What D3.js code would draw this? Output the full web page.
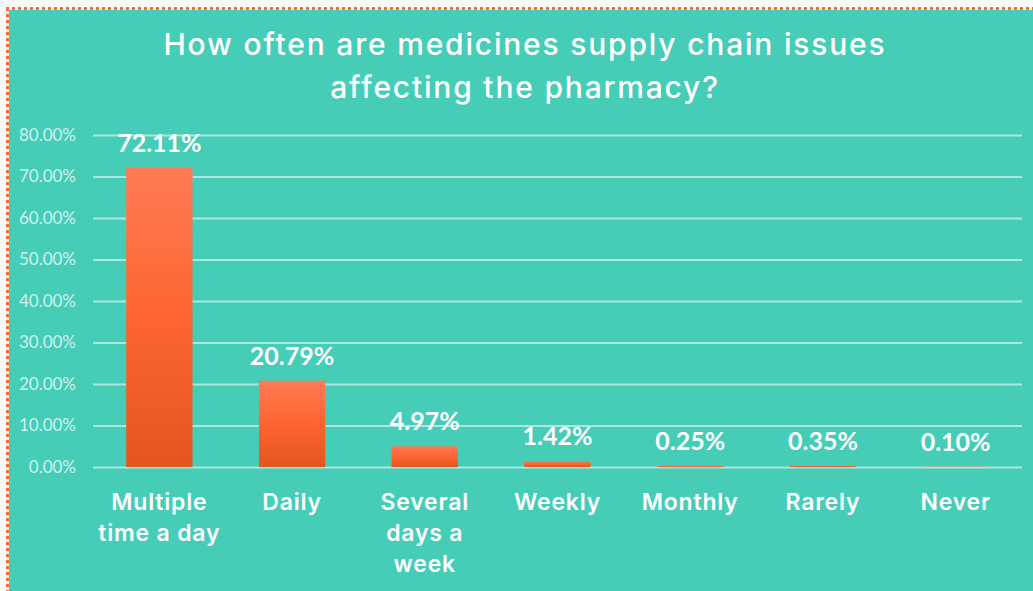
<!DOCTYPE html>
<html>
<head>
<meta charset="utf-8">
<script src="https://cdn.jsdelivr.net/npm/d3@7"></script>
<style>
  body { margin: 0; background: #f7f9f9; }
  svg { display: block; }
</style>
</head>
<body>
<div id="chart"></div>
<script>
const categories = [
  ['Multiple', 'time a day'],
  ['Daily'],
  ['Several', 'days a', 'week'],
  ['Weekly'],
  ['Monthly'],
  ['Rarely'],
  ['Never']
];
const values = [72.11, 20.79, 4.97, 1.42, 0.25, 0.35, 0.10];
const yTicks = [0, 10, 20, 30, 40, 50, 60, 70, 80];
const titleLines = ['How often are medicines supply chain issues', 'affecting the pharmacy?'];

const color = {
  page: '#f7f9f9',
  bg: '#45cdb7',
  border: '#ff6a33',
  grid: 'rgba(255,255,255,0.55)',
  tick: 'rgba(255,255,255,0.75)',
  text: '#ffffff',
  barTop: '#ff7a55',
  barMid: '#fd6530',
  barBottom: '#e4561f'
};

const W = 1033, H = 591;
const margin = { top: 135, right: 11, bottom: 124, left: 93 };
const width = W - margin.left - margin.right;
const height = H - margin.top - margin.bottom;

const svg = d3.select('#chart')
  .append('svg')
  .attr('width', W)
  .attr('height', H);

// gradient for bars
const grad = svg.append('defs')
  .append('linearGradient')
  .attr('id', 'barGrad')
  .attr('x1', 0).attr('y1', 0)
  .attr('x2', 0).attr('y2', 1);
grad.append('stop').attr('offset', '0%').attr('stop-color', color.barTop);
grad.append('stop').attr('offset', '50%').attr('stop-color', color.barMid);
grad.append('stop').attr('offset', '100%').attr('stop-color', color.barBottom);

// background panel + dotted border (left and top)
svg.append('rect')
  .attr('x', 9).attr('y', 10)
  .attr('width', W - 9).attr('height', H - 10)
  .attr('fill', color.bg);

svg.append('line')
  .attr('x1', 7.5).attr('y1', 8).attr('x2', 7.5).attr('y2', H)
  .attr('stroke', color.border).attr('stroke-width', 3)
  .attr('stroke-dasharray', '3,3');
svg.append('line')
  .attr('x1', 6).attr('y1', 8.5).attr('x2', W).attr('y2', 8.5)
  .attr('stroke', color.border).attr('stroke-width', 3)
  .attr('stroke-dasharray', '3,3');

// title
svg.append('text')
  .attr('x', 525)
  .attr('text-anchor', 'middle')
  .attr('fill', color.text)
  .style('font-family', 'Inter, "Noto Sans", sans-serif')
  .style('font-weight', 500)
  .style('font-size', '30px')
  .style('letter-spacing', '1.8px')
  .selectAll('tspan')
  .data(titleLines)
  .enter()
  .append('tspan')
  .attr('x', 525)
  .attr('y', (d, i) => 55 + i * 43)
  .text(d => d);

const g = svg.append('g')
  .attr('transform', `translate(${margin.left}, ${margin.top})`);

const x = d3.scaleBand()
  .domain(d3.range(categories.length))
  .range([0, width])
  .paddingInner(0.5)
  .paddingOuter(0.25);

const y = d3.scaleLinear()
  .domain([0, 80])
  .range([height, 0]);

// gridlines + y axis labels
const yAxis = g.append('g')
  .call(d3.axisLeft(y)
    .tickValues(yTicks)
    .tickSize(-width)
    .tickPadding(17)
    .tickFormat(d => d3.format('.2f')(d) + '%'));
yAxis.select('.domain').remove();
yAxis.selectAll('.tick line')
  .attr('stroke', color.grid)
  .attr('stroke-width', 2);
yAxis.selectAll('.tick text')
  .attr('fill', color.tick)
  .style('font-family', 'Lato, "Open Sans", sans-serif')
  .style('font-size', '17px');

// bars
g.selectAll('.bar')
  .data(values)
  .enter()
  .append('rect')
  .attr('class', 'bar')
  .attr('x', (d, i) => x(i))
  .attr('y', d => y(d))
  .attr('width', x.bandwidth())
  .attr('height', d => height - y(d))
  .attr('fill', 'url(#barGrad)');

// value labels
g.selectAll('.val')
  .data(values)
  .enter()
  .append('text')
  .attr('class', 'val')
  .attr('x', (d, i) => x(i) + x.bandwidth() / 2)
  .attr('y', d => y(d) - 16)
  .attr('text-anchor', 'middle')
  .attr('fill', color.text)
  .style('font-family', 'Lato, "Open Sans", sans-serif')
  .style('font-weight', 700)
  .style('font-size', '25px')
  .text(d => d3.format('.2f')(d) + '%');

// category labels
const cat = g.selectAll('.cat')
  .data(categories)
  .enter()
  .append('text')
  .attr('class', 'cat')
  .attr('text-anchor', 'middle')
  .attr('fill', color.text)
  .style('font-family', 'Inter, "Noto Sans", sans-serif')
  .style('font-weight', 600)
  .style('font-size', '23px')
  .style('letter-spacing', '0.8px');

cat.selectAll('tspan')
  .data((d, i) => d.map(line => ({ line, i })))
  .enter()
  .append('tspan')
  .attr('x', d => x(d.i) + x.bandwidth() / 2)
  .attr('y', (d, j) => height + 43 + j * 31)
  .text(d => d.line);
</script>
</body>
</html>
